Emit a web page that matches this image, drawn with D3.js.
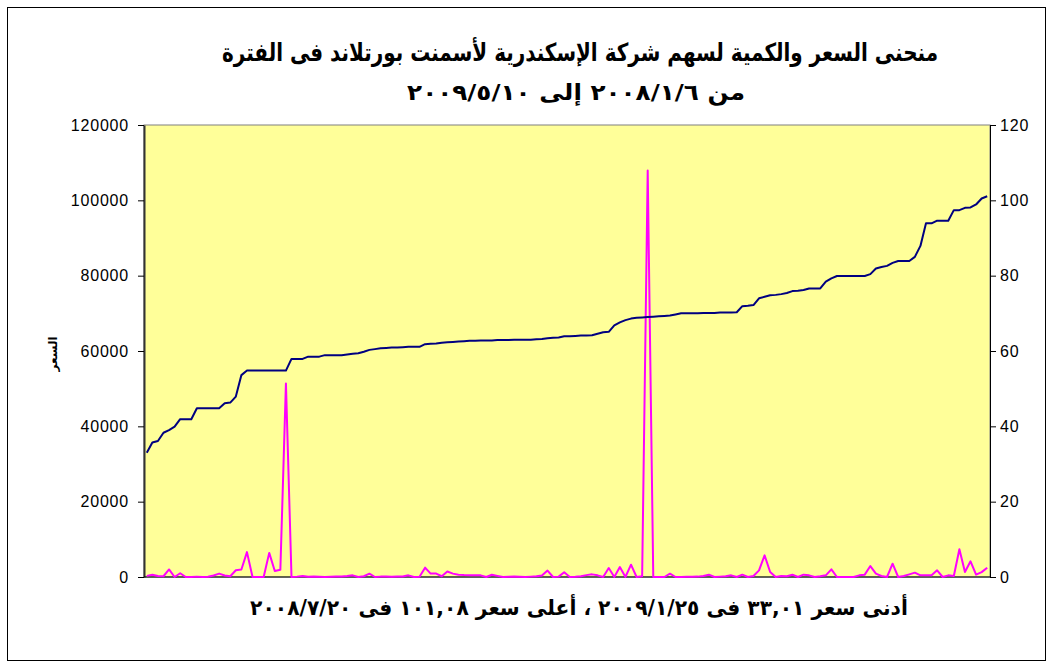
<!DOCTYPE html>
<html>
<head>
<meta charset="utf-8">
<script src="https://cdn.jsdelivr.net/npm/d3@7"></script>
<style>
  body { margin: 0; background: #fff; }
  svg { display: block; }
</style>
</head>
<body>
<script>
// price (right axis) sorted ascending, with the traded quantity at each point (left axis)
const price = [
  33.01, 35.7, 36.1, 38.3, 39.0, 39.9, 41.9, 41.9, 41.9, 44.8,
  44.8, 44.8, 44.8, 44.8, 46.1, 46.3, 47.9, 53.6, 54.8, 54.8,
  54.8, 54.8, 54.8, 54.8, 54.8, 54.8, 57.9, 57.9, 57.9, 58.5,
  58.5, 58.5, 58.9, 58.9, 58.9, 58.9, 59.1, 59.3, 59.4, 59.8,
  60.3, 60.5, 60.7, 60.8, 60.9, 60.9, 61.0, 61.1, 61.1, 61.1,
  61.8, 61.9, 62.0, 62.2, 62.3, 62.4, 62.5, 62.6, 62.7, 62.7,
  62.8, 62.8, 62.8, 62.9, 62.9, 62.9, 63.0, 63.0, 63.0, 63.0,
  63.1, 63.2, 63.4, 63.5, 63.6, 63.9, 63.9, 64.0, 64.1, 64.1,
  64.2, 64.6, 65.0, 65.1, 66.8, 67.6, 68.2, 68.6, 68.8, 68.9,
  69.0, 69.1, 69.2, 69.3, 69.4, 69.7, 70.0, 70.0, 70.0, 70.0,
  70.1, 70.1, 70.1, 70.2, 70.2, 70.2, 70.3, 71.9, 72.0, 72.2,
  74.0, 74.4, 74.8, 74.9, 75.1, 75.4, 75.9, 76.0, 76.2, 76.6,
  76.6, 76.6, 78.4, 79.3, 79.9, 79.9, 79.9, 79.9, 79.9, 79.9,
  80.4, 81.9, 82.3, 82.6, 83.4, 83.9, 83.9, 83.9, 85.0, 87.9,
  93.9, 93.9, 94.6, 94.6, 94.6, 97.4, 97.4, 98.0, 98.1, 98.9,
  100.5, 101.08
];

const volume = [
  300, 600, 250, 200, 2000, 0, 1000, 0, 0, 100,
  0, 50, 400, 900, 400, 200, 1800, 2000, 6600, 0,
  0, 0, 6400, 1600, 1900, 51400, 0, 100, 265, 50,
  100, 50, 0, 50, 100, 150, 250, 440, 0, 200,
  885, 0, 100, 100, 50, 100, 150, 440, 0, 50,
  2480, 900, 900, 200, 1450, 900, 600, 500, 450, 450,
  440, 0, 600, 300, 0, 50, 100, 50, 0, 100,
  200, 400, 1700, 0, 100, 1250, 0, 50, 200, 500,
  700, 440, 0, 2390, 0, 2650, 0, 3270, 0, 200,
  107900, 0, 0, 0, 880, 0, 0, 50, 50, 100,
  265, 620, 0, 100, 200, 440, 0, 620, 0, 265,
  1770, 5750, 1330, 0, 265, 200, 620, 0, 620, 440,
  0, 200, 440, 2030, 0, 0, 0, 0, 440, 620,
  2900, 880, 265, 0, 3540, 0, 265, 700, 1150, 440,
  440, 440, 1770, 0, 440, 265, 7350, 1330, 4160, 620,
  1300, 2480
];

const leftTicks = [0, 20000, 40000, 60000, 80000, 100000, 120000];
const rightTicks = [0, 20, 40, 60, 80, 100, 120];

const titleLines = [
  'منحنى السعر والكمية لسهم شركة الإسكندرية لأسمنت بورتلاند فى الفترة',
  'من ٢٠٠٨/١/٦ إلى ٢٠٠٩/٥/١٠'
];
const caption = 'أدنى سعر ٣٣,٠١ فى ٢٠٠٩/١/٢٥ ، أعلى سعر ١٠١,٠٨ فى ٢٠٠٨/٧/٢٠';
const yTitle = 'السعر';

let width = 1053,
    height = 668;

let margin = { top: 125, bottom: 91, left: 144, right: 63 };

let svg = d3.select('body')
            .append('svg')
            .attr('width', width)
            .attr('height', height);

// outer chart frame
svg.append('rect')
  .attr('x', 7.5).attr('y', 7.5)
  .attr('width', 1038).attr('height', 653)
  .attr('fill', '#fff')
  .attr('stroke', '#000')
  .attr('stroke-width', 1);

let idx = d3.range(price.length);

let xscale = d3.scalePoint()
              .domain(idx)
              .range([margin.left, width - margin.right])
              .padding(0.5);

let yleft = d3.scaleLinear()
              .domain([0, 120000])
              .range([height - margin.bottom, margin.top]);

let yright = d3.scaleLinear()
              .domain([0, 120])
              .range([height - margin.bottom, margin.top]);

// plot area
svg.append('rect')
  .attr('x', margin.left).attr('y', margin.top)
  .attr('width', width - margin.left - margin.right)
  .attr('height', height - margin.top - margin.bottom)
  .attr('fill', '#FFFF99')
  .attr('stroke', '#808080')
  .attr('stroke-width', 1);

let axisFont = g => g.selectAll('text')
  .attr('font-family', 'Arial, "Liberation Sans", sans-serif')
  .attr('font-size', 16)
  .attr('letter-spacing', 0.8)
  .attr('fill', '#000');

svg.append('g')
  .attr('transform', `translate(${margin.left},0)`)
  .call(d3.axisLeft(yleft).tickValues(leftTicks).tickSize(6).tickSizeOuter(0).tickPadding(9).tickFormat(d3.format('d')))
  .call(axisFont)
  .call(g => g.select('.domain').attr('stroke', '#333').attr('stroke-width', 2));

svg.append('g')
  .attr('transform', `translate(${width - margin.right},0)`)
  .call(d3.axisRight(yright).tickValues(rightTicks).tickSize(6).tickSizeOuter(0).tickPadding(4))
  .call(axisFont);

// bottom axis line
svg.append('line')
  .attr('x1', margin.left).attr('x2', width - margin.right)
  .attr('y1', height - margin.bottom).attr('y2', height - margin.bottom)
  .attr('stroke', '#000');

let volLine = d3.line()
  .x(d => xscale(d))
  .y(d => yleft(volume[d]));

let priceLine = d3.line()
  .x(d => xscale(d))
  .y(d => yright(price[d]));

svg.append('path')
  .datum(idx)
  .attr('d', volLine)
  .attr('fill', 'none')
  .attr('stroke', '#FF00FF')
  .attr('stroke-width', 2)
  .attr('stroke-linejoin', 'round');

svg.append('path')
  .datum(idx)
  .attr('d', priceLine)
  .attr('fill', 'none')
  .attr('stroke', '#000080')
  .attr('stroke-width', 2)
  .attr('stroke-linejoin', 'round');

// arabic texts: keep the glyph height, squeeze horizontally to the original width
let arFont = '"DejaVu Sans", sans-serif';

function arText(str, cx, cy, size, target) {
  let t = svg.append('text')
    .text(str)
    .attr('x', 0).attr('y', 0)
    .attr('direction', 'rtl')
    .attr('text-anchor', 'middle')
    .attr('dominant-baseline', 'central')
    .attr('font-family', arFont)
    .attr('font-weight', 'bold')
    .attr('font-size', size);
  let w = t.node().getComputedTextLength();
  t.attr('transform', `translate(${cx},${cy}) scale(${target / w},1)`);
  return t;
}

arText(titleLines[0], 580, 52, 25, 716);
arText(titleLines[1], 576, 92, 22, 338);
arText(caption, 579, 608, 21, 658);

svg.append('text')
  .text(yTitle)
  .attr('transform', 'translate(53,354) rotate(-90)')
  .attr('text-anchor', 'middle')
  .attr('dominant-baseline', 'central')
  .attr('font-family', arFont)
  .attr('font-weight', 'bold')
  .attr('font-size', 12);
</script>
</body>
</html>
